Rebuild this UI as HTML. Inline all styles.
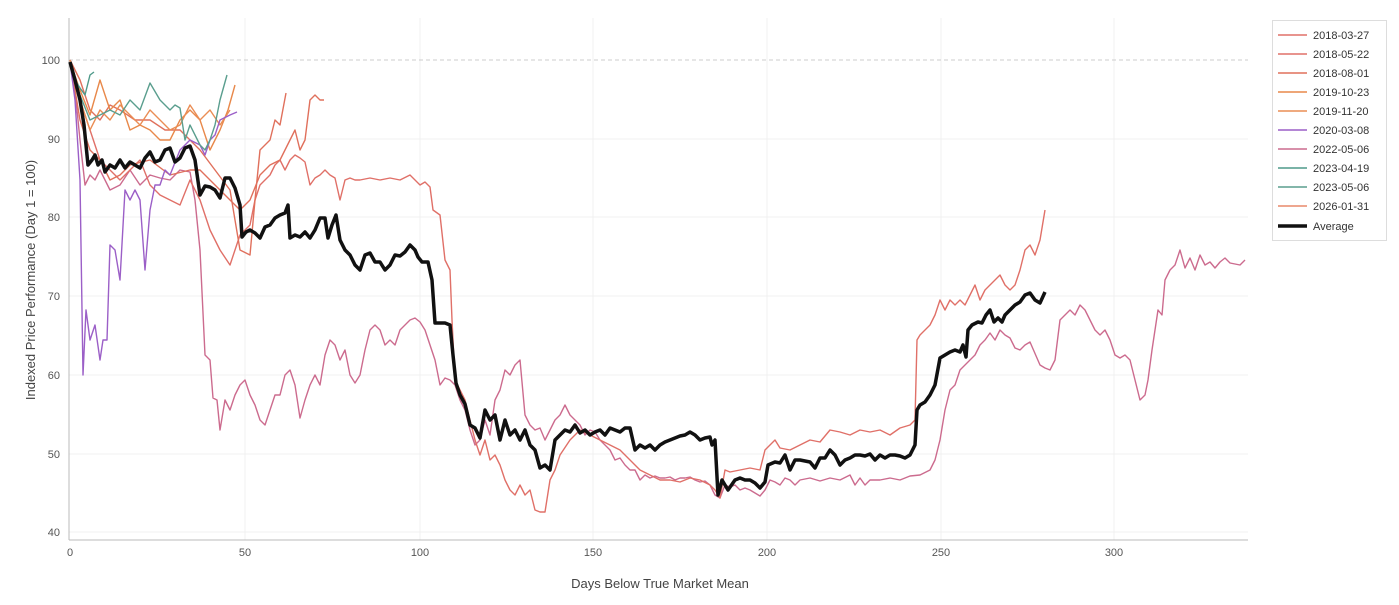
<!DOCTYPE html><html><head><style>body{margin:0;background:#fff;font-family:"Liberation Sans",sans-serif}</style></head><body>
<svg width="1399" height="600" xmlns="http://www.w3.org/2000/svg" font-family="Liberation Sans, sans-serif">
<g stroke="#f0f0f0" stroke-width="1">
<line x1="245" y1="18" x2="245" y2="540"/><line x1="420" y1="18" x2="420" y2="540"/><line x1="593" y1="18" x2="593" y2="540"/><line x1="767" y1="18" x2="767" y2="540"/><line x1="941" y1="18" x2="941" y2="540"/><line x1="1114" y1="18" x2="1114" y2="540"/>
<line x1="69" y1="139" x2="1248" y2="139"/><line x1="69" y1="217" x2="1248" y2="217"/><line x1="69" y1="296" x2="1248" y2="296"/><line x1="69" y1="375" x2="1248" y2="375"/><line x1="69" y1="454" x2="1248" y2="454"/><line x1="69" y1="532" x2="1248" y2="532"/>
</g>
<line x1="69" y1="60" x2="1248" y2="60" stroke="#ccc" stroke-dasharray="4,3"/>
<line x1="69" y1="18" x2="69" y2="540" stroke="#bbb"/><line x1="69" y1="540" x2="1248" y2="540" stroke="#bbb"/>
<g font-size="11" fill="#555" text-anchor="end">
<text x="60" y="64">100</text><text x="60" y="143">90</text><text x="60" y="221">80</text><text x="60" y="300">70</text><text x="60" y="379">60</text><text x="60" y="458">50</text><text x="60" y="536">40</text></g>
<g font-size="11" fill="#555" text-anchor="middle">
<text x="70" y="556">0</text><text x="245" y="556">50</text><text x="420" y="556">100</text><text x="593" y="556">150</text><text x="767" y="556">200</text><text x="941" y="556">250</text><text x="1114" y="556">300</text></g>
<text x="660" y="588" font-size="13" fill="#444" text-anchor="middle">Days Below True Market Mean</text>
<text transform="translate(35,280) rotate(-90)" font-size="13" fill="#444" text-anchor="middle">Indexed Price Performance (Day 1 = 100)</text>
<g fill="none" stroke-width="1.4" stroke-linejoin="round">
<polyline stroke="#cc6b8e" points="70,62 75,90 80,140 85,185 90,175 95,180 100,170 110,190 120,185 130,170 140,185 150,175 160,178 170,180 180,170 190,172 195,200 200,250 205,355 210,360 213,398 217,400 220,430 225,400 230,410 235,395 240,385 245,380 250,395 255,405 260,420 265,425 270,410 275,395 280,395 285,375 290,370 295,385 300,418 305,400 310,385 315,375 320,385 325,355 330,340 335,345 340,360 345,350 350,375 355,383 360,375 365,350 370,330 375,325 380,330 385,345 390,340 395,345 400,330 405,325 410,320 415,318 420,322 425,330 430,345 435,360 440,385 445,378 450,380 455,385 460,400 465,410 470,430 475,445 480,440 485,420 490,435 495,400 500,390 505,370 510,375 515,365 520,360 525,415 530,425 535,430 540,428 545,440 550,430 555,420 560,415 565,405 570,415 575,420 580,425 585,435 590,430 595,432 600,440 605,445 610,450 615,460 620,458 625,465 630,470 635,470 640,480 645,475 650,478 655,476 660,478 665,478 670,477 675,480 680,478 685,478 690,477 695,480 700,482 705,481 710,485 715,495 720,498 725,485 730,487 735,485 740,490 745,488 750,490 755,493 760,496 765,490 770,480 775,482 780,485 785,478 790,480 795,485 800,480 810,478 820,481 830,478 840,480 850,475 855,485 860,478 865,485 870,480 880,480 890,478 900,480 910,476 920,475 930,470 935,460 940,440 945,410 950,390 955,385 960,370 965,365 970,360 975,355 980,345 985,340 990,333 995,340 1000,330 1005,335 1010,338 1015,348 1020,350 1025,345 1030,342 1040,365 1045,368 1050,370 1055,360 1060,320 1065,315 1070,310 1075,315 1080,305 1085,310 1090,320 1095,330 1100,335 1105,330 1110,340 1115,355 1120,358 1125,355 1130,360 1135,380 1140,400 1145,395 1148,380 1152,350 1155,330 1158,310 1162,315 1165,280 1170,270 1175,265 1180,250 1185,268 1190,258 1195,270 1200,255 1205,265 1210,262 1215,268 1220,262 1225,258 1230,263 1240,265 1245,260"/>
<polyline stroke="#e07068" points="70,62 80,100 90,130 100,160 110,170 120,180 130,170 140,160 150,185 160,195 170,200 180,205 190,180 200,200 210,230 220,250 230,265 240,235 250,225 255,200 260,185 265,180 270,175 275,165 280,160 285,170 290,160 295,155 300,158 305,162 310,185 315,178 320,175 325,170 330,175 335,178 340,200 345,180 350,178 355,180 360,180 370,178 380,180 390,178 400,180 410,175 415,180 420,185 425,182 430,187 433,210 440,215 445,260 450,270 452,320 455,380 460,390 465,400 470,420 475,440 480,455 485,440 490,460 495,455 500,465 505,480 510,490 515,495 520,485 525,495 530,490 535,510 540,512 545,512 550,480 555,470 560,455 570,440 580,430 590,435 600,440 610,445 620,450 630,460 640,470 650,475 660,480 670,480 680,482 690,478 700,480 710,485 715,490 720,498 725,470 730,472 740,470 750,468 760,470 765,450 770,445 775,440 780,448 790,450 800,445 810,440 820,442 830,430 840,432 850,435 860,430 870,432 880,430 890,435 900,428 910,425 915,420 917,340 920,335 925,330 930,325 935,315 940,300 945,310 950,300 955,305 960,300 965,305 970,295 975,285 980,300 985,290 990,285 995,280 1000,275 1005,285 1010,290 1015,285 1020,270 1025,250 1030,245 1035,255 1040,240 1045,210"/>
<polyline stroke="#e0705c" points="70,60 80,120 90,150 100,160 110,180 120,175 130,165 150,160 170,175 190,170 200,170 220,190 240,210 250,200 260,175 270,165 280,160 290,140 295,130 300,150 305,140 310,100 315,95 320,100 324,100"/>
<polyline stroke="#e0705c" points="70,60 80,80 90,110 100,120 110,105 120,110 135,120 150,120 165,130 180,130 200,150 215,170 230,190 240,250 250,255 255,200 260,150 265,145 270,140 275,120 280,125 286,93"/>
<polyline stroke="#e8884a" points="70,62 80,90 90,115 100,80 110,110 120,100 130,130 140,125 150,130 160,140 170,140 180,120 190,110 200,120 210,150 220,130 228,110 235,85"/>
<polyline stroke="#ea8d55" points="70,60 80,100 90,130 100,110 110,120 120,105 130,115 140,125 150,110 160,120 170,130 180,125 190,105 200,120 210,110 220,125 230,110"/>
<polyline stroke="#9b5fc7" points="70,62 75,100 80,180 83,375 86,310 90,340 95,325 100,360 103,340 107,340 110,245 115,250 120,280 125,190 130,200 135,190 140,200 145,270 150,210 155,185 160,185 165,170 170,175 180,150 190,140 200,145 205,155 210,140 215,135 220,120 230,115 237,112"/>
<polyline stroke="#4f9a8a" points="70,62 75,80 80,88 85,95 90,75 94,72"/>
<polyline stroke="#5a9e8e" points="70,62 80,95 90,120 100,115 110,110 120,115 130,100 140,110 150,83 160,100 170,110 175,105 180,108 185,140 190,125 200,145 205,150 210,140 215,125 220,100 227,75"/>
<polyline stroke="#111" stroke-width="3.5" points="70,62 75,80 80,100 84,125 88,165 92,160 95,155 98,165 102,160 105,172 110,165 115,168 120,160 125,168 130,162 135,165 140,168 145,158 150,152 155,162 160,160 165,150 170,148 175,162 180,158 185,148 190,146 195,160 200,195 205,186 210,187 215,190 220,198 225,178 230,178 235,188 240,205 242,237 246,232 250,230 255,233 260,238 265,227 270,225 275,218 280,215 285,213 288,205 290,238 295,235 300,237 305,232 310,238 315,230 320,218 325,218 328,238 332,225 336,215 340,240 345,250 350,255 355,265 360,270 365,255 370,253 375,262 380,262 385,270 390,265 395,255 400,256 405,252 410,245 415,250 418,257 422,262 428,262 432,280 435,323 445,323 450,325 453,355 456,383 460,395 465,404 470,425 475,428 480,438 485,410 490,420 495,415 500,440 505,420 510,435 515,430 520,440 525,430 530,445 535,450 540,468 545,465 550,470 555,440 560,435 565,430 570,432 575,425 580,433 585,430 590,435 595,432 600,430 605,435 610,428 615,430 620,432 625,428 630,428 635,450 640,445 645,448 650,445 655,450 660,445 665,442 670,440 675,438 680,436 685,435 690,432 695,435 700,440 705,438 710,437 712,445 715,440 718,495 722,480 728,490 735,480 740,478 745,480 750,480 755,483 760,488 765,482 768,465 775,462 780,463 785,455 790,470 795,460 800,460 810,462 815,468 820,458 825,458 830,450 835,455 840,465 845,460 850,458 855,455 860,455 865,456 870,454 875,460 880,455 885,458 890,455 895,455 900,456 905,458 910,455 915,445 917,410 920,405 925,402 930,395 935,385 940,358 945,355 950,352 955,350 960,352 963,345 966,357 968,330 972,325 978,322 982,323 986,315 990,310 994,322 998,318 1002,322 1005,315 1010,310 1015,305 1020,302 1025,295 1030,293 1035,300 1040,303 1045,292"/>
</g>
<rect x="1272.5" y="20.5" width="114" height="220" fill="#fff" stroke="#ddd"/>
<g font-size="11" fill="#333">
<line x1="1278" y1="35" x2="1307" y2="35" stroke="#e07068" stroke-width="1.5"/><text x="1313" y="39">2018-03-27</text>
<line x1="1278" y1="54" x2="1307" y2="54" stroke="#e07068" stroke-width="1.5"/><text x="1313" y="58">2018-05-22</text>
<line x1="1278" y1="73" x2="1307" y2="73" stroke="#e0705c" stroke-width="1.5"/><text x="1313" y="77">2018-08-01</text>
<line x1="1278" y1="92" x2="1307" y2="92" stroke="#e8884a" stroke-width="1.5"/><text x="1313" y="96">2019-10-23</text>
<line x1="1278" y1="111" x2="1307" y2="111" stroke="#ea8d55" stroke-width="1.5"/><text x="1313" y="115">2019-11-20</text>
<line x1="1278" y1="130" x2="1307" y2="130" stroke="#9b5fc7" stroke-width="1.5"/><text x="1313" y="134">2020-03-08</text>
<line x1="1278" y1="149" x2="1307" y2="149" stroke="#cc6b8e" stroke-width="1.5"/><text x="1313" y="153">2022-05-06</text>
<line x1="1278" y1="168" x2="1307" y2="168" stroke="#4f9a8a" stroke-width="1.5"/><text x="1313" y="172">2023-04-19</text>
<line x1="1278" y1="187" x2="1307" y2="187" stroke="#5a9e8e" stroke-width="1.5"/><text x="1313" y="191">2023-05-06</text>
<line x1="1278" y1="206" x2="1307" y2="206" stroke="#e8886a" stroke-width="1.5"/><text x="1313" y="210">2026-01-31</text>
<line x1="1278" y1="226" x2="1307" y2="226" stroke="#111" stroke-width="3.5"/><text x="1313" y="230">Average</text>
</g>
</svg></body></html>
